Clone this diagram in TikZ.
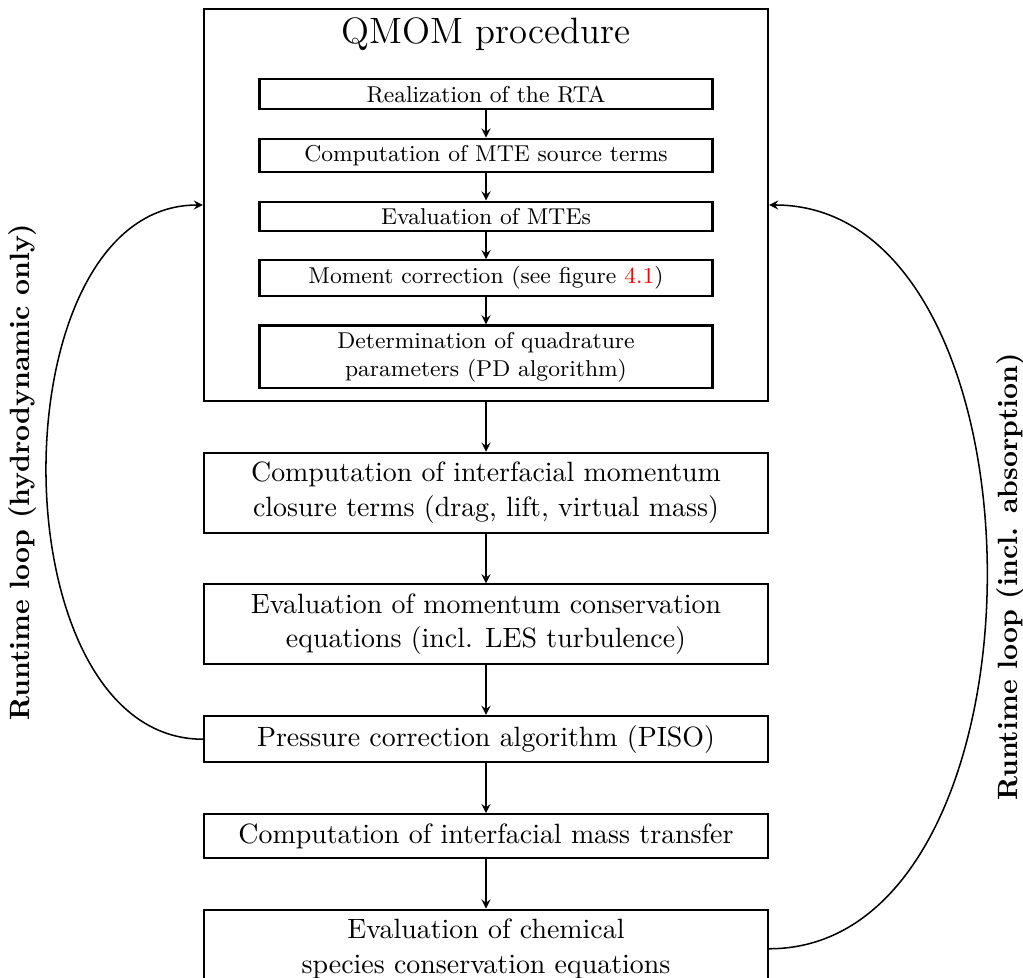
\documentclass[11pt,tikz,border=0pt]{standalone}
\usetikzlibrary{positioning}
\begin{document}
\begin{tikzpicture}[x=0.3925pt,y=-0.3925pt,
    box/.style={draw,thick,minimum width=221.4pt,align=center},
    subbox/.style={draw,thick,minimum width=177.8pt,inner sep=2.5pt,align=center,font=\footnotesize},
    arr/.style={semithick,-stealth},
    looplabel/.style={midway,rotate=90,font=\bfseries}]
  \useasboundingbox (0,0) rectangle (1023,978);
  % QMOM block
  \node[box,minimum height=153.9pt] (qmom) at (486,205) {};
  \node[font=\Large,below=0pt of qmom.north] (title) {QMOM procedure};
  \node[subbox,below=7pt of title] (rta) {Realization of the RTA};
  \node[subbox,below=0.38cm of rta] (src) {Computation of MTE source terms};
  \node[subbox,below=0.38cm of src] (mtes) {Evaluation of MTEs};
  \node[subbox,below=0.38cm of mtes] (corr) {Moment correction (see figure \textcolor{red}{4.1})};
  \node[subbox,below=0.38cm of corr] (pd) {Determination of quadrature\\parameters (PD algorithm)};
  % solver steps
  \node[box,below=19.5pt of qmom] (closure) {Computation of interfacial momentum\\closure terms (drag, lift, virtual mass)};
  \node[box,below=19.5pt of closure] (moment) {Evaluation of momentum conservation\\equations (incl. LES turbulence)};
  \node[box,below=19.5pt of moment] (piso) {Pressure correction algorithm (PISO)};
  \node[box,below=19.5pt of piso] (mass) {Computation of interfacial mass transfer};
  \node[box,below=19.5pt of mass] (species) {Evaluation of chemical\\species conservation equations};
  \foreach \a/\b in {rta/src,src/mtes,mtes/corr,corr/pd,qmom/closure,closure/moment,moment/piso,piso/mass,mass/species}
    \draw[arr] (\a) -- (\b);
  % runtime loops
  \draw[arr] (piso.west) to[out=180,in=180] node[looplabel,anchor=south] {Runtime loop (hydrodynamic only)} (qmom.west);
  \draw[arr] (species.east) to[out=0,in=0] node[looplabel,anchor=north] {Runtime loop (incl. absorption)} (qmom.east);
\end{tikzpicture}
\end{document}
